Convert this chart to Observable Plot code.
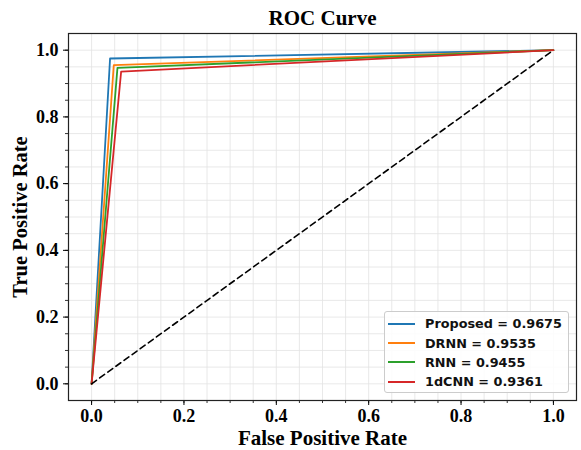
<!DOCTYPE html>
<html>
<head>
<meta charset="utf-8">
<script src="https://cdn.jsdelivr.net/npm/d3@7"></script>
<script src="https://cdn.jsdelivr.net/npm/@observablehq/plot@0.6"></script>
<style>
  body { margin: 0; background: #fff; }
  #wrap { position: relative; width: 581px; height: 450px; }
  #legend {
    position: absolute; left: 384px; top: 311px; width: 185px; height: 82px;
    border: 1px solid #cccccc; border-radius: 3px; background: rgba(255,255,255,0.85);
    box-sizing: border-box; padding: 2px 0 0 3px;
    font-family: "DejaVu Sans", sans-serif; font-weight: bold; font-size: 12.8px; color: #111;
  }
  .row { display: flex; align-items: center; height: 19.4px; }
  .sw { width: 27px; height: 0; border-top: 2px solid; margin-right: 10px; }
</style>
</head>
<body>
<div id="wrap"></div>
<script>
const models = ["Proposed", "DRNN", "RNN", "1dCNN"];
const aucValues = [0.9675, 0.9535, 0.9455, 0.9361];
const fprPoint = [0.040, 0.048, 0.056, 0.064];
const tprPoint = [0.975, 0.955, 0.947, 0.936];
const majorTicks = [0, 0.2, 0.4, 0.6, 0.8, 1.0];
const minorTicks = [0, 0.05, 0.1, 0.15, 0.2, 0.25, 0.3, 0.35, 0.4, 0.45, 0.5, 0.55, 0.6, 0.65, 0.7, 0.75, 0.8, 0.85, 0.9, 0.95, 1.0];
const gridLines = [-0.05, ...minorTicks, 1.05];
const diagonal = [[0, 0], [1, 1]];
const colors = ["#1f77b4", "#ff7f0e", "#2ca02c", "#d62728"];
const titleText = "ROC Curve";
const xLabel = "False Positive Rate";
const yLabel = "True Positive Rate";

const curves = models.flatMap((m, i) => [
  {model: m, fpr: 0, tpr: 0},
  {model: m, fpr: fprPoint[i], tpr: tprPoint[i]},
  {model: m, fpr: 1, tpr: 1}
]);

const serif = "'Liberation Serif', 'Times New Roman', serif";

const chart = Plot.plot({
  width: 581,
  height: 450,
  marginLeft: 68,
  marginRight: 5,
  marginTop: 33,
  marginBottom: 50,
  style: {fontFamily: serif, fontWeight: "bold", fontSize: "18px", color: "#000", background: "#fff"},
  x: {domain: [-0.05, 1.05], label: null},
  y: {domain: [-0.05, 1.05], label: null},
  color: {domain: models, range: colors},
  marks: [
    Plot.ruleX(gridLines, {stroke: "#e3e3e3", strokeWidth: 0.8}),
    Plot.ruleY(gridLines, {stroke: "#e3e3e3", strokeWidth: 0.8}),
    Plot.axisX(minorTicks, {tickSize: 3, text: null, stroke: "#333"}),
    Plot.axisY(minorTicks, {tickSize: 3, text: null, stroke: "#333"}),
    Plot.axisX(majorTicks, {tickSize: 5, tickPadding: 4, tickFormat: d3.format(".1f"), fontSize: 18, fontWeight: "bold", label: null}),
    Plot.axisY(majorTicks, {tickSize: 5, tickPadding: 5, tickFormat: d3.format(".1f"), fontSize: 18, fontWeight: "bold", label: null}),
    Plot.line(curves, {x: "fpr", y: "tpr", z: "model", stroke: "model", strokeWidth: 1.8}),
    Plot.line(diagonal, {x: d => d[0], y: d => d[1], stroke: "#000", strokeWidth: 1.6, strokeDasharray: "6,4"}),
    Plot.frame({stroke: "#222", strokeWidth: 1.2}),
    Plot.text([titleText], {text: d => d, frameAnchor: "top", textAnchor: "middle", lineAnchor: "middle", dy: -15, fontSize: 21, fontWeight: "bold", fontFamily: serif}),
    Plot.text([xLabel], {text: d => d, frameAnchor: "bottom", textAnchor: "middle", lineAnchor: "middle", dy: 38, fontSize: 21, fontWeight: "bold", fontFamily: serif}),
    Plot.text([yLabel], {text: d => d, frameAnchor: "left", textAnchor: "middle", lineAnchor: "middle", dx: -48, rotate: -90, fontSize: 20.5, fontWeight: "bold", fontFamily: serif})
  ]
});

const wrap = document.getElementById("wrap");
wrap.appendChild(chart);

const legend = document.createElement("div");
legend.id = "legend";
models.forEach((m, i) => {
  const row = document.createElement("div");
  row.className = "row";
  const sw = document.createElement("span");
  sw.className = "sw";
  sw.style.borderColor = colors[i];
  const label = document.createElement("span");
  label.textContent = `${m} = ${aucValues[i].toFixed(4)}`;
  row.appendChild(sw);
  row.appendChild(label);
  legend.appendChild(row);
});
wrap.appendChild(legend);
</script>
</body>
</html>
